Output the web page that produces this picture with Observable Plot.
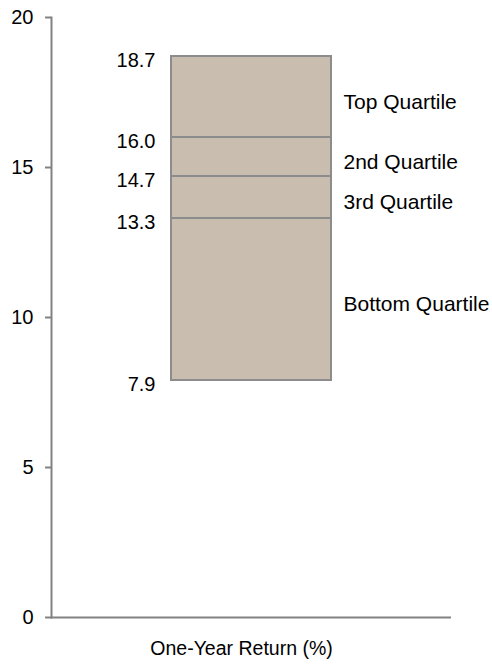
<!DOCTYPE html>
<html>
<head>
<meta charset="utf-8">
<script src="https://cdn.jsdelivr.net/npm/d3@7"></script>
<script src="https://cdn.jsdelivr.net/npm/@observablehq/plot@0.6"></script>
<style>
  html, body { margin: 0; padding: 0; background: #fff; }
  #chart svg { display: block; }
</style>
</head>
<body>
<div id="chart"></div>
<script>
const category = "One-Year Return (%)";
const quartileNames = ["Bottom Quartile", "3rd Quartile", "2nd Quartile", "Top Quartile"];
const quartileBounds = [7.9, 13.3, 14.7, 16.0, 18.7];
const yTicks = [0, 5, 10, 15, 20];

const segments = quartileNames.map((name, i) => ({
  x: category,
  name,
  y1: quartileBounds[i],
  y2: quartileBounds[i + 1],
  mid: (quartileBounds[i] + quartileBounds[i + 1]) / 2
}));
const boundLabels = quartileBounds.map(v => ({x: category, y: v, label: v.toFixed(1)}));

const axisGray = "#828282";

const chart = Plot.plot({
  width: 492,
  height: 667,
  marginLeft: 51,
  marginRight: 41,
  marginTop: 17,
  marginBottom: 50,
  style: {fontFamily: "'Liberation Sans', Arial, sans-serif", fontSize: "20px", color: "#000", background: "#fff"},
  x: {domain: [category], paddingInner: 0, paddingOuter: 0.75, label: null},
  y: {domain: [0, 20], label: null},
  marks: [
    Plot.barY(segments, {x: "x", y1: "y1", y2: "y2", fill: "#c9bdb0", stroke: "#8c8c8c", strokeWidth: 2, inset: 0}),
    Plot.text(boundLabels, {x: "x", y: "y", text: "label", textAnchor: "end", dx: -96, dy: 4, fontSize: 20, fill: "#000"}),
    Plot.text(segments, {x: "x", y: "mid", text: "name", textAnchor: "start", dx: 92, dy: 5, fontSize: 21, fill: "#000"}),
    Plot.axisY({ticks: yTicks, tickSize: 6, tickPadding: 12, stroke: axisGray, strokeWidth: 2, fontSize: 20, fill: "#000", label: null}),
    Plot.axisX({tickSize: 0, tickPadding: 24, fontSize: 19.5, fill: "#000", dx: -10, label: null}),
    Plot.frame({anchor: "left", stroke: axisGray, strokeWidth: 2}),
    Plot.ruleY([0], {stroke: axisGray, strokeWidth: 2})
  ]
});
document.getElementById("chart").appendChild(chart);
</script>
</body>
</html>
